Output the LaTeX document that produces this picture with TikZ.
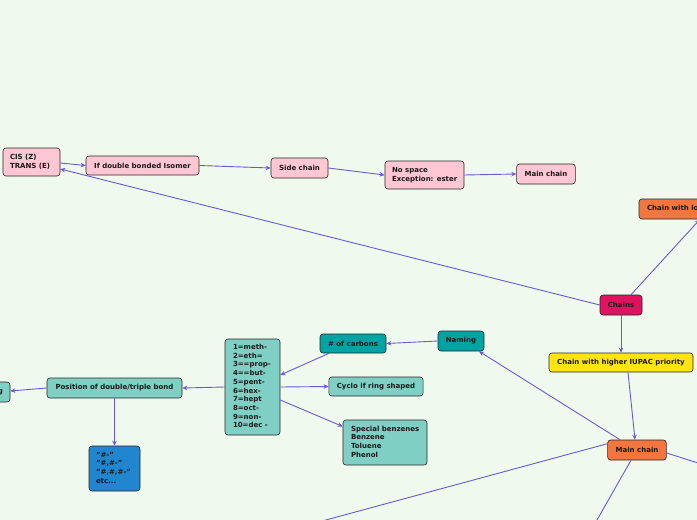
\documentclass[tikz,border=0pt]{standalone}
\usepackage{fontspec}
\setmainfont{DejaVu Sans}
\usetikzlibrary{arrows.meta}
\definecolor{bg}{HTML}{F0F9EE}
\definecolor{pinkc}{HTML}{FFC6D3}
\definecolor{orangec}{HTML}{F2763D}
\definecolor{crimc}{HTML}{E0135E}
\definecolor{yellowc}{HTML}{FFE50F}
\definecolor{tealc}{HTML}{00A3A3}
\definecolor{ltealc}{HTML}{7FCFC4}
\definecolor{bluec}{HTML}{2086D0}
\definecolor{linec}{HTML}{6A5ACD}
\newcommand\lbox[2]{\makebox[#1][l]{\begin{tabular}{@{}l@{}}#2\end{tabular}}}
\newcommand\rbox[2]{\makebox[#1][r]{#2}}
\tikzset{
  box/.style={draw=black!85, line width=0.6pt, rounded corners=3pt,
    font=\fontsize{7}{8.7}\selectfont\bfseries,
    inner xsep=8pt, inner ysep=2pt, text=black!90},
  conn/.style={draw=linec, line width=0.9pt},
  arr/.style={conn, -{Stealth[length=5pt,width=4.5pt]}}
}
\begin{document}
\begin{tikzpicture}[x=1pt,y=-1pt]
\useasboundingbox (0,0) rectangle (697,520);
\fill[bg] (0,0) rectangle (697,520);
\begin{scope}
\clip (0,0) rectangle (697,520);
% nodes
\node[box, fill=pinkc, minimum width=57pt, minimum height=28pt, inner xsep=7pt] (cis) at (31.5,162) {\lbox{43pt}{CIS (Z)\\TRANS (E)}};
\node[box, fill=pinkc, minimum width=113pt, minimum height=19pt] (ifdb) at (142.5,165.5) {If double bonded Isomer};
\node[box, fill=pinkc, minimum width=57pt, minimum height=20pt] (side) at (299.5,168) {Side chain};
\node[box, fill=pinkc, minimum width=79pt, minimum height=28pt, inner xsep=7pt] (nospace) at (424.5,175) {\lbox{65pt}{No space\\Exception: ester}};
\node[box, fill=pinkc, minimum width=58pt, minimum height=20pt] (mainp) at (546,174) {Main chain};
\node[box, fill=orangec, minimum width=122pt, minimum height=20pt] (lo) at (700,209) {\lbox{106pt}{Chain with longest}};
\node[box, fill=crimc, minimum width=42pt, minimum height=20pt, inner xsep=4pt] (chains) at (621,305) {Chains};
\node[box, fill=yellowc, minimum width=144pt, minimum height=19pt] (iupac) at (621,362.5) {Chain with higher IUPAC priority};
\node[box, fill=orangec, minimum width=58pt, minimum height=20pt] (mainc) at (637,450) {Main chain};
\node[box, fill=tealc, minimum width=46pt, minimum height=20pt, inner xsep=4pt] (naming) at (461,341) {Naming};
\node[box, fill=tealc, minimum width=66pt, minimum height=19pt] (carbons) at (353,343.5) {\# of carbons};
\node[box, fill=ltealc, minimum width=55pt, minimum height=96pt, inner xsep=8pt] (list) at (252.5,387) {\lbox{39pt}{1=meth-\\2=eth=\\3==prop-\\4==but-\\5=pent-\\6=hex-\\7=hept\\8=oct-\\9=non-\\10=dec -}};
\node[box, fill=ltealc, minimum width=94pt, minimum height=19pt] (cyclo) at (376,386.5) {Cyclo if ring shaped};
\node[box, fill=ltealc, minimum width=84pt, minimum height=45pt, inner xsep=8pt] (special) at (385,442.5) {\lbox{68pt}{Special benzenes\\Benzene\\Toluene\\Phenol}};
\node[box, fill=ltealc, minimum width=135pt, minimum height=20pt] (pos) at (114.5,388) {Position of double/triple bond};
\node[box, fill=ltealc, minimum width=60pt, minimum height=20pt, inner xsep=7pt] (leftn) at (-20,392) {\rbox{46pt}{Numbering}};
\node[box, fill=bluec, minimum width=51pt, minimum height=45pt, inner xsep=7pt] (blue) at (114.5,468.5) {\lbox{37pt}{"\#-"\\"\#,\#-"\\"\#,\#,\#-"\\etc...}};
% off-picture ends
\coordinate (offa) at (300,527);
\coordinate (offb) at (593,527);
\coordinate (offc) at (720,470);
% connectors
\draw[arr] (chains.west) -- ([yshift=-7pt]cis.east);
\draw[arr] ([yshift=-1pt]cis.east) -- (ifdb.west);
\draw[arr] (ifdb.east) -- (side.west);
\draw[arr] (side.east) -- (nospace.west);
\draw[arr] (nospace.east) -- (mainp.west);
\draw[arr] ([xshift=10pt]chains.north) -- (lo.south);
\draw[arr] (chains.south) -- (iupac.north);
\draw[arr] ([xshift=7pt]iupac.south) -- ([xshift=-2pt]mainc.north);
\draw[arr] ([xshift=-17pt]mainc.north) -- ([xshift=18pt]naming.south);
\draw[conn] ([yshift=-4pt]mainc.north west) -- (offa);
\draw[conn] ([xshift=-6pt]mainc.south) -- (offb);
\draw[conn] ([yshift=-3pt]mainc.east) -- (offc);
\draw[arr] (naming.west) -- (carbons.east);
\draw[arr] ([xshift=-24pt]carbons.south) -- ([yshift=12pt]list.east);
\draw[arr] (list.east) -- (cyclo.west);
\draw[arr] ([yshift=-13pt]list.east) -- ([yshift=16pt]special.west);
\draw[arr] (list.west) -- (pos.east);
\draw[arr] (pos.west) -- ([yshift=1pt]leftn.east);
\draw[arr] (pos.south) -- (blue.north);
\end{scope}
\end{tikzpicture}
\end{document}
